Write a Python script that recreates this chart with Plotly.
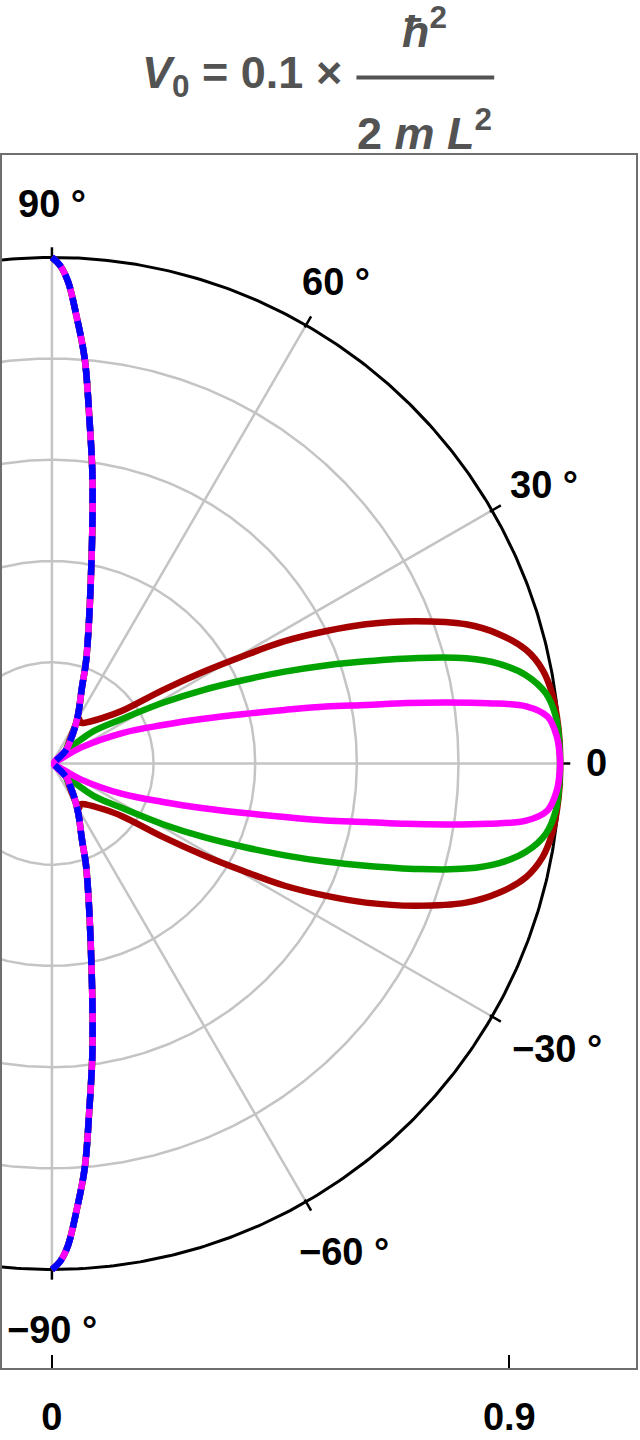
import numpy as np
import plotly.graph_objects as go

# ---------------- data (upper half; theta in degrees, lower half mirrors it) ----------------
red_theta = [0.0, 2.5, 5.3, 8.0, 10.85, 13.5, 16.2, 18.65, 21.5, 24.0, 25.9, 27.8, 29.4, 31.3, 33.6, 37.0, 42.0, 50.0, 55.0, 58.9]
red_r = [1.0, 1.0, 0.998, 0.994, 0.983, 0.960, 0.916, 0.860, 0.767, 0.676, 0.598, 0.518, 0.434, 0.349, 0.262, 0.173, 0.1345, 0.106, 0.098, 0.103]

green_theta = [0.0, 2.7, 5.3, 8.1, 10.6, 12.6, 14.3, 16.1, 18.1, 19.8, 21.6, 23.6, 26.0, 28.8, 32.5, 38.0, 41.6]
green_r = [1.0, 0.999, 0.996, 0.982, 0.949, 0.902, 0.841, 0.752, 0.650, 0.572, 0.493, 0.412, 0.331, 0.249, 0.164, 0.104, 0.048]

magenta_theta = [0.0, 1.2, 3.05, 5.4, 6.9, 7.9, 8.8, 9.7, 10.6, 11.8, 13.0, 14.5, 16.5, 19.2, 23.5, 28.9, 31.0]
magenta_r = [1.0, 0.999, 0.995, 0.980, 0.940, 0.866, 0.787, 0.708, 0.629, 0.550, 0.470, 0.391, 0.311, 0.231, 0.151, 0.066, 0.005]

blue_theta = [0.0, 31.0]
blue_r = [0.0, 0.005]

# lobe along +/-90 degrees shared by every curve
side_theta = [44.0, 51.3, 57.3, 62.5, 68.5, 71.5, 75.4, 79.0, 80.9, 82.2, 83.8, 85.4, 86.9, 88.1, 89.1, 90.0]
side_r = [0.040, 0.058, 0.083, 0.113, 0.161, 0.211, 0.289, 0.408, 0.506, 0.585, 0.684, 0.803, 0.887, 0.953, 0.985, 1.0]

grid_radii = [0.2, 0.4, 0.6, 0.8]
spoke_angles = [-60, -30, 0, 30, 60]
angle_ticks = [90, 60, 30, 0, -30, -60, -90]
angle_labels = ["90 °", "60 °", "30 °", "0", "−30 °", "−60 °", "−90 °"]
x_tickvals = [0, 0.9]
x_ticktext = ["0", "0.9"]

# ---------------- styling / layout ----------------
W, H = 640, 1440
ML, MR, MT, MB = 2, 3, 155, 65
UNIT = 509.0
CX, CY = 52.0, 767.0
FONT = "Liberation Sans, Arial, sans-serif"
GRID = "rgb(196,196,196)"
TITLE_C = "#535353"

xr = [(ML - CX) / UNIT, (W - MR - CX) / UNIT]
yr = [-(H - MB - CY) / UNIT, (CY - MT) / UNIT]


def px2paper(px, py):
    return (px - ML) / (W - ML - MR), (H - MB - py) / (H - MT - MB)


def full_curve(th_lobe, r_lobe):
    th = list(th_lobe) + side_theta
    r = list(r_lobe) + side_r
    th_all = [-t for t in th[::-1]] + th[1:]
    r_all = r[::-1] + r[1:]
    t = np.radians(th_all)
    r_all = np.array(r_all)
    return r_all * np.cos(t), r_all * np.sin(t)


fig = go.Figure()
tt = np.linspace(0, 2 * np.pi, 721)

# grid circles
for rad in grid_radii:
    fig.add_trace(go.Scatter(x=rad * np.cos(tt), y=rad * np.sin(tt), mode="lines",
                             line=dict(color=GRID, width=2.5), hoverinfo="skip", showlegend=False))
# spokes
for a in spoke_angles:
    ar = np.radians(a)
    fig.add_trace(go.Scatter(x=[0, np.cos(ar)], y=[0, np.sin(ar)], mode="lines",
                             line=dict(color=GRID, width=2.5), hoverinfo="skip", showlegend=False))
fig.add_trace(go.Scatter(x=[0, 0], y=[-1, 1], mode="lines",
                         line=dict(color=GRID, width=2.5), hoverinfo="skip", showlegend=False))
# outer circle
fig.add_trace(go.Scatter(x=np.cos(tt), y=np.sin(tt), mode="lines",
                         line=dict(color="black", width=3), hoverinfo="skip", showlegend=False))
# angle tick marks
for a in angle_ticks:
    ar = np.radians(a)
    fig.add_trace(go.Scatter(x=[0.995 * np.cos(ar), 1.02 * np.cos(ar)],
                             y=[0.995 * np.sin(ar), 1.02 * np.sin(ar)], mode="lines",
                             line=dict(color="black", width=2.5), hoverinfo="skip", showlegend=False))

# curves
for th, rr, col in [(red_theta, red_r, "#A50000"), (green_theta, green_r, "#00A300"),
                    (magenta_theta, magenta_r, "#FF00FF")]:
    x, y = full_curve(th, rr)
    fig.add_trace(go.Scatter(x=x, y=y, mode="lines",
                             line=dict(color=col, width=6.5, shape="spline", smoothing=1.0),
                             hoverinfo="skip", showlegend=False))
x, y = full_curve(blue_theta, blue_r)
fig.add_trace(go.Scatter(x=x, y=y, mode="lines",
                         line=dict(color="#0000FF", width=6.5, dash="15px,9px", shape="spline", smoothing=1.0),
                         hoverinfo="skip", showlegend=False))

# angle labels
label_shift = {90: (0, 53), 60: (30, 43), 30: (52, 25), 0: (36, 0),
               -30: (65, -32), -60: (38, -50), -90: (0, -60)}
annotations = []
for a, lab in zip(angle_ticks, angle_labels):
    ar = np.radians(a)
    dx, dy = label_shift[a]
    annotations.append(dict(x=np.cos(ar), y=np.sin(ar), xref="x", yref="y", text=lab,
                            showarrow=False, xanchor="center", yanchor="middle",
                            xshift=dx, yshift=dy,
                            font=dict(family=FONT, size=38, color="black", weight="bold")))

# title: V0 = 0.1 x hbar^2 / (2 m L^2)
tx, ty = px2paper(345, 75)
annotations.append(dict(x=tx, y=ty, xref="paper", yref="paper", showarrow=False,
                        xanchor="right", yanchor="middle",
                        text="<i>V</i><sub>0</sub> = 0.1 ×",
                        font=dict(family=FONT, size=45, color=TITLE_C, weight="bold")))
nx, ny = px2paper(425, 27)
annotations.append(dict(x=nx, y=ny, xref="paper", yref="paper", showarrow=False,
                        xanchor="center", yanchor="middle",
                        text="<i>ħ</i><sup>2</sup>",
                        font=dict(family=FONT, size=45, color=TITLE_C, weight="bold")))
dxp, dyp = px2paper(425, 130)
annotations.append(dict(x=dxp, y=dyp, xref="paper", yref="paper", showarrow=False,
                        xanchor="center", yanchor="middle",
                        text="2 <i>m</i> <i>L</i><sup>2</sup>",
                        font=dict(family=FONT, size=45, color=TITLE_C, weight="bold")))
b0x, by = px2paper(357, 77)
b1x, _ = px2paper(495, 77)
shapes = [dict(type="line", xref="paper", yref="paper", x0=b0x, x1=b1x, y0=by, y1=by,
               line=dict(color=TITLE_C, width=4))]

fig.update_layout(
    width=W, height=H, margin=dict(l=ML, r=MR, t=MT, b=MB),
    paper_bgcolor="white", plot_bgcolor="white",
    annotations=annotations, shapes=shapes,
    xaxis=dict(range=xr, showgrid=False, zeroline=False, showline=True, mirror=True,
               linecolor="#6E6E6E", linewidth=2, ticks="inside", ticklen=13, tickwidth=1.5,
               tickcolor="black", tickvals=x_tickvals, ticktext=x_ticktext,
               ticklabelstandoff=14,
               tickfont=dict(family=FONT, size=38, color="black", weight="bold")),
    yaxis=dict(range=yr, showgrid=False, zeroline=False, showline=True, mirror=True,
               linecolor="#6E6E6E", linewidth=2, showticklabels=False, ticks=""),
)

fig.write_html("out.html", config={"displayModeBar": False},
               post_script="document.body.style.margin='0px';")
